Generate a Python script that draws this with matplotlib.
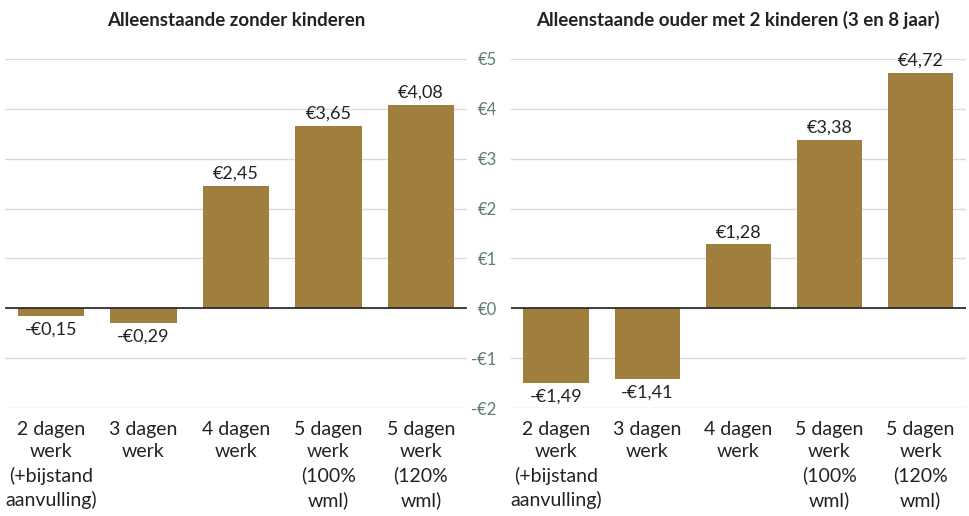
import matplotlib
matplotlib.use("Agg")
from matplotlib import pyplot as plt

# data
categories = ["2 dagen\nwerk\n(+bijstand\naanvulling)", "3 dagen\nwerk", "4 dagen\nwerk",
              "5 dagen\nwerk\n(100%\nwml)", "5 dagen\nwerk\n(120%\nwml)"]
zonder_kinderen = [-0.15, -0.29, 2.45, 3.65, 4.08]
met_kinderen = [-1.49, -1.41, 1.28, 3.38, 4.72]
titles = ["Alleenstaande zonder kinderen", "Alleenstaande ouder met 2 kinderen (3 en 8 jaar)"]
yticks = [-2, -1, 0, 1, 2, 3, 4, 5]

plt.rcParams['font.family'] = ['Lato', 'DejaVu Sans']
bar_color = "#A07F3E"
tick_color = "#5E7B78"

def euro(v):
    s = "€" + ("%.2f" % abs(v)).replace(".", ",")
    return ("-" + s) if v < 0 else s

fig = plt.figure(figsize=(9.69, 5.16), dpi=100)
ax1 = fig.add_axes([0.005, 0.2093, 0.477, 0.6764])
ax2 = fig.add_axes([0.527, 0.2093, 0.470, 0.6764])

for ax, vals, title in [(ax1, zonder_kinderen, titles[0]), (ax2, met_kinderen, titles[1])]:
    x = range(len(vals))
    bars = ax.bar(x, vals, width=0.72, color=bar_color, zorder=2)
    ax.set_xlim(-0.5, len(vals) - 0.5)
    ax.set_ylim(-2, 5)
    ax.set_yticks(yticks)
    ax.grid(axis="y", color="#DADADA", linewidth=1, zorder=0)
    ax.axhline(0, color="#222222", linewidth=1.2, zorder=3)
    for s in ax.spines.values():
        s.set_visible(False)
    ax.set_xticks(list(x))
    ax.set_xticklabels(categories, fontsize=14, color="#222222", linespacing=1.42)
    ax.tick_params(axis="x", length=0, pad=9)
    ax.tick_params(axis="y", length=0)
    for b, v in zip(bars, vals):
        ax.annotate(euro(v), (b.get_x() + b.get_width() / 2, v),
                    xytext=(0, 3 if v >= 0 else -4), textcoords="offset points",
                    ha="center", va="bottom" if v >= 0 else "top",
                    fontsize=13, color="#222222", annotation_clip=False)
    ax.set_title(title, fontsize=13.5, fontweight="bold", color="#222222", pad=24)

ax1.set_yticklabels([])
ax2.set_yticklabels([euro(t).replace(",00", "") for t in yticks], fontsize=12, color=tick_color)
ax2.tick_params(axis="y", pad=10)

fig.savefig("out.png", dpi=100)
plt.close()
